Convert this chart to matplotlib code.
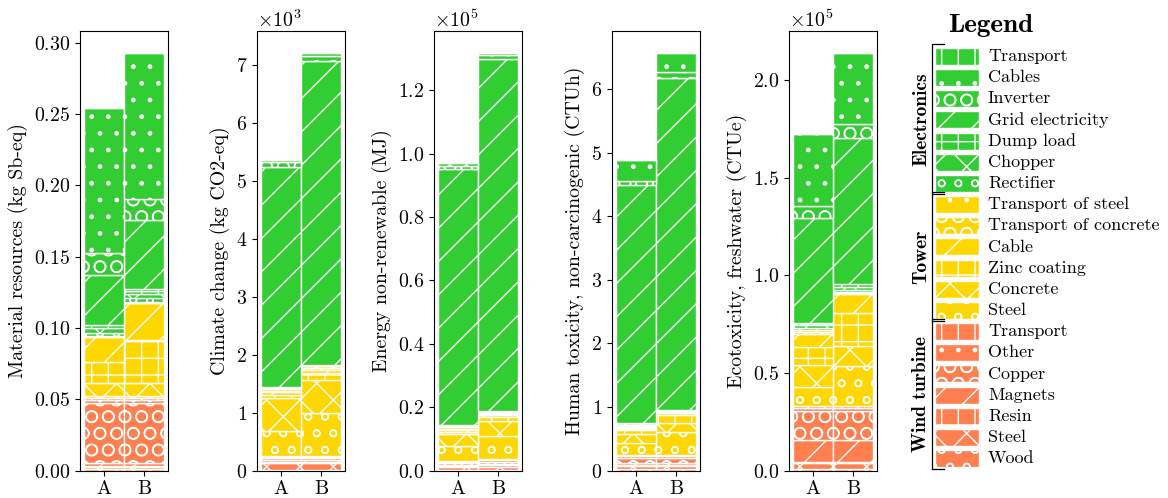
"""Stacked LCA impact bars for configurations A and B, with grouped legend."""
import matplotlib
matplotlib.use("Agg")
import matplotlib.pyplot as plt
from matplotlib.patches import Rectangle
from matplotlib.ticker import MultipleLocator
import numpy as np

plt.rcParams.update({
    "font.family": "cmr10",
    "mathtext.fontset": "cm",
    "axes.formatter.use_mathtext": True,
    "axes.unicode_minus": False,
    "font.size": 14.3,
    "hatch.linewidth": 1.0,
    "axes.linewidth": 0.8,
})

CONFIGS = ["A", "B"]

# component names, bottom -> top inside each group
WIND_PARTS = ["Wood", "Steel", "Resin", "Magnets", "Copper", "Other", "Transport"]
TOWER_PARTS = ["Steel", "Concrete", "Zinc coating", "Cable",
               "Transport of concrete", "Transport of steel"]
ELEC_PARTS = ["Rectifier", "Chopper", "Dump load", "Grid electricity",
              "Inverter", "Cables", "Transport"]

WIND_HATCH = ["o", "x", "+", "/", "O", ".", "|"]
TOWER_HATCH = ["o", "x", "+", "/", "O", "."]
ELEC_HATCH = ["o", "x", "+", "/", "O", ".", "|"]

WIND_COLOR = "#FF7F50"
TOWER_COLOR = "#FFD700"
ELEC_COLOR = "#32CD32"

# each array: [values for A], [values for B]
MAT_WIND = [[0.0010, 0.0015, 0.0010, 0.0017, 0.0423, 0.0016, 0.0015],
            [0.0010, 0.0015, 0.0010, 0.0017, 0.0423, 0.0016, 0.0015]]
MAT_TOWER = [[0.0018, 0.0089, 0.0145, 0.0178, 0.0006, 0.0004],
             [0.0015, 0.0090, 0.0306, 0.0255, 0.0004, 0.0004]]
MAT_ELEC = [[0.0020, 0.0030, 0.0025, 0.0351, 0.0155, 0.1013, 0.0006],
            [0.0030, 0.0030, 0.0030, 0.0486, 0.0150, 0.1020, 0.0006]]

CC_WIND = [[10, 120, 20, 30, 40, 20, 10],
           [10, 120, 20, 30, 40, 20, 10]]
CC_TOWER = [[430, 570, 50, 50, 30, 30],
            [750, 570, 120, 50, 30, 30]]
CC_ELEC = [[10, 10, 10, 3800, 80, 50, 10],
           [10, 10, 10, 5250, 80, 50, 10]]

EN_WIND = [[200, 800, 400, 400, 500, 400, 300],
           [200, 1000, 400, 500, 600, 500, 300]]
EN_TOWER = [[4800, 3700, 700, 600, 400, 400],
            [7500, 4500, 1300, 600, 400, 400]]
EN_ELEC = [[300, 300, 300, 80500, 1200, 800, 300],
           [200, 200, 200, 111000, 1200, 700, 200]]

HT_WIND = [[0.03, 0.04, 0.02, 0.03, 0.08, 0.03, 0.02],
           [0.03, 0.04, 0.02, 0.03, 0.08, 0.03, 0.02]]
HT_TOWER = [[0.19, 0.14, 0.06, 0.02, 0.01, 0.01],
            [0.36, 0.14, 0.13, 0.03, 0.01, 0.01]]
HT_ELEC = [[0.02, 0.02, 0.02, 3.76, 0.06, 0.33, 0.01],
           [0.01, 0.01, 0.01, 5.225, 0.085, 0.30, 0.01]]

ECO_WIND = [[1000, 3000, 500, 11000, 15000, 1500, 1000],
            [1000, 3000, 500, 11000, 15000, 1500, 1000]]
ECO_TOWER = [[10000, 11000, 9500, 6500, 1000, 1000],
             [20500, 10200, 17200, 9300, 500, 500]]
ECO_ELEC = [[1200, 1200, 1200, 53800, 6300, 36700, 500],
            [1500, 1500, 1300, 74900, 7300, 36000, 500]]

PANELS = [
    ("Material resources (kg Sb-eq)", MAT_WIND, MAT_TOWER, MAT_ELEC),
    ("Climate change (kg CO2-eq)", CC_WIND, CC_TOWER, CC_ELEC),
    ("Energy non-renewable (MJ)", EN_WIND, EN_TOWER, EN_ELEC),
    ("Human toxicity, non-carcinogenic (CTUh)", HT_WIND, HT_TOWER, HT_ELEC),
    ("Ecotoxicity, freshwater (CTUe)", ECO_WIND, ECO_TOWER, ECO_ELEC),
]
TICK_STEPS = [0.05, 1000, 20000, 1, 50000]


def stacked(ax, wind, tower, elec):
    x = np.arange(len(CONFIGS))
    bottom = np.zeros(len(CONFIGS))
    for data, color, hatches in [(wind, WIND_COLOR, WIND_HATCH),
                                 (tower, TOWER_COLOR, TOWER_HATCH),
                                 (elec, ELEC_COLOR, ELEC_HATCH)]:
        vals = np.array(data, dtype=float).T
        for v, h in zip(vals, hatches):
            ax.bar(x, v, width=1.0, bottom=bottom, color=color,
                   edgecolor="white", hatch=h, linewidth=1.0)
            bottom += v
    ax.set_xticks(x)
    ax.set_xticklabels(CONFIGS)


W, H = 1168, 498
fig = plt.figure(figsize=(W / 100, H / 100), dpi=100)

lefts = [80, 257, 434, 612, 789]
for left, step, (ylabel, wind, tower, elec) in zip(lefts, TICK_STEPS, PANELS):
    ax = fig.add_axes([left / W, 27.5 / H, 88 / W, 439 / H])
    stacked(ax, wind, tower, elec)
    ax.set_ylabel(ylabel)
    ax.yaxis.set_major_locator(MultipleLocator(step))
    ax.ticklabel_format(axis="y", style="sci", scilimits=(-3, 3), useMathText=True)

# --- legend panel ---
lax = fig.add_axes([905 / W, 0, (W - 905) / W, 1])
lax.set_xlim(905, W)
lax.set_ylim(H, 0)
lax.axis("off")

lax.text(991, 25, "Legend", ha="center", va="center",
         fontfamily="cmb10", fontsize=19.5)

groups = [("Electronics", ELEC_PARTS, ELEC_HATCH, ELEC_COLOR),
          ("Tower", TOWER_PARTS, TOWER_HATCH, TOWER_COLOR),
          ("Wind turbine", WIND_PARTS, WIND_HATCH, WIND_COLOR)]
row0, step = 56.5, 21.16
row = 0
for name, parts, hatches, color in groups:
    first = row
    for part, h in reversed(list(zip(parts, hatches))):
        yc = row0 + row * step
        lax.add_patch(Rectangle((935, yc - 8.5), 44, 17, facecolor=color,
                                edgecolor="white", hatch=h, linewidth=1.0))
        lax.text(988, yc, part, ha="left", va="center", fontsize=13)
        row += 1
    top = row0 + first * step - step / 2 - 2
    bot = row0 + (row - 1) * step + step / 2
    lax.plot([944, 932, 932, 944], [top, top, bot, bot], color="black", lw=0.9)
    lax.text(921, (top + bot) / 2, name, rotation=90, ha="center", va="center",
             fontfamily="cmb10", fontsize=14)

fig.savefig("out.png", dpi=100)
